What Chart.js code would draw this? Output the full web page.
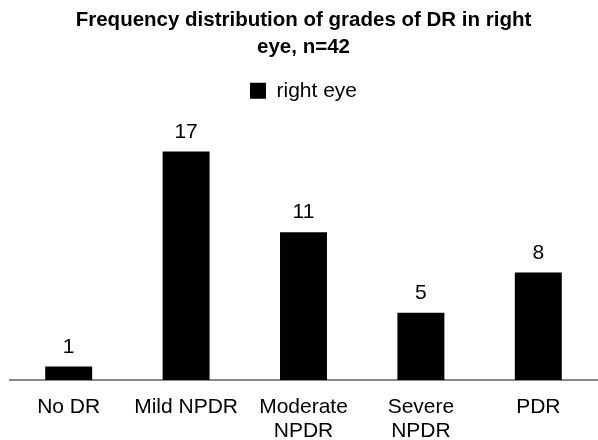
<!DOCTYPE html>
<html lang="en">
<head>
  <meta charset="UTF-8">
  <title>Grades of DR in right eye</title>
  <script src="https://cdn.jsdelivr.net/npm/chart.js"></script>
  <style>
    body { margin: 0; background: #fff; }
    #wrap { width: 598px; height: 440px; }
  </style>
</head>
<body>
  <div id="wrap"><canvas id="drChart"></canvas></div>

  <script>
    const grades = [['No DR'], ['Mild NPDR'], ['Moderate', 'NPDR'], ['Severe', 'NPDR'], ['PDR']];
    const rightEye = [1, 17, 11, 5, 8];

    const fontFamily = '"Liberation Sans", Arial, sans-serif';

    // simple value labels above each bar
    const valueLabels = {
      id: 'valueLabels',
      afterDatasetsDraw(chart) {
        const ctx = chart.ctx;
        ctx.save();
        ctx.font = '21px ' + fontFamily;
        ctx.fillStyle = '#000';
        ctx.textAlign = 'center';
        ctx.textBaseline = 'alphabetic';
        chart.getDatasetMeta(0).data.forEach((bar, i) => {
          ctx.fillText(rightEye[i], bar.x, bar.y - 14);
        });
        ctx.restore();
      }
    };

    new Chart(document.getElementById('drChart'), {
      type: 'bar',
      data: {
        labels: grades,
        datasets: [{
          label: 'right eye',
          data: rightEye,
          backgroundColor: '#000',
          categoryPercentage: 1,
          barPercentage: 0.4
        }]
      },
      options: {
        responsive: true,
        maintainAspectRatio: false,
        animation: false,
        layout: { padding: { left: 10, right: 1, top: 0, bottom: -18.3 } },
        plugins: {
          title: {
            display: true,
            text: ['Frequency distribution of grades of DR in right', 'eye, n=42'],
            color: '#000',
            font: { family: fontFamily, size: 20.5, weight: 'bold', lineHeight: 1.3 },
            padding: { top: 7, bottom: 10 }
          },
          legend: {
            labels: {
              color: '#000',
              boxWidth: 16,
              boxHeight: 16,
              padding: 10,
              font: { family: fontFamily, size: 21 }
            }
          },
          tooltip: { enabled: false }
        },
        scales: {
          x: {
            grid: { display: false, drawTicks: false },
            border: { color: '#898989', width: 2 },
            ticks: {
              color: '#000',
              padding: 15,
              font: { family: fontFamily, size: 21, lineHeight: 1.15 }
            }
          },
          y: {
            display: false,
            min: 0,
            max: 20
          }
        }
      },
      plugins: [valueLabels]
    });
  </script>
</body>
</html>
